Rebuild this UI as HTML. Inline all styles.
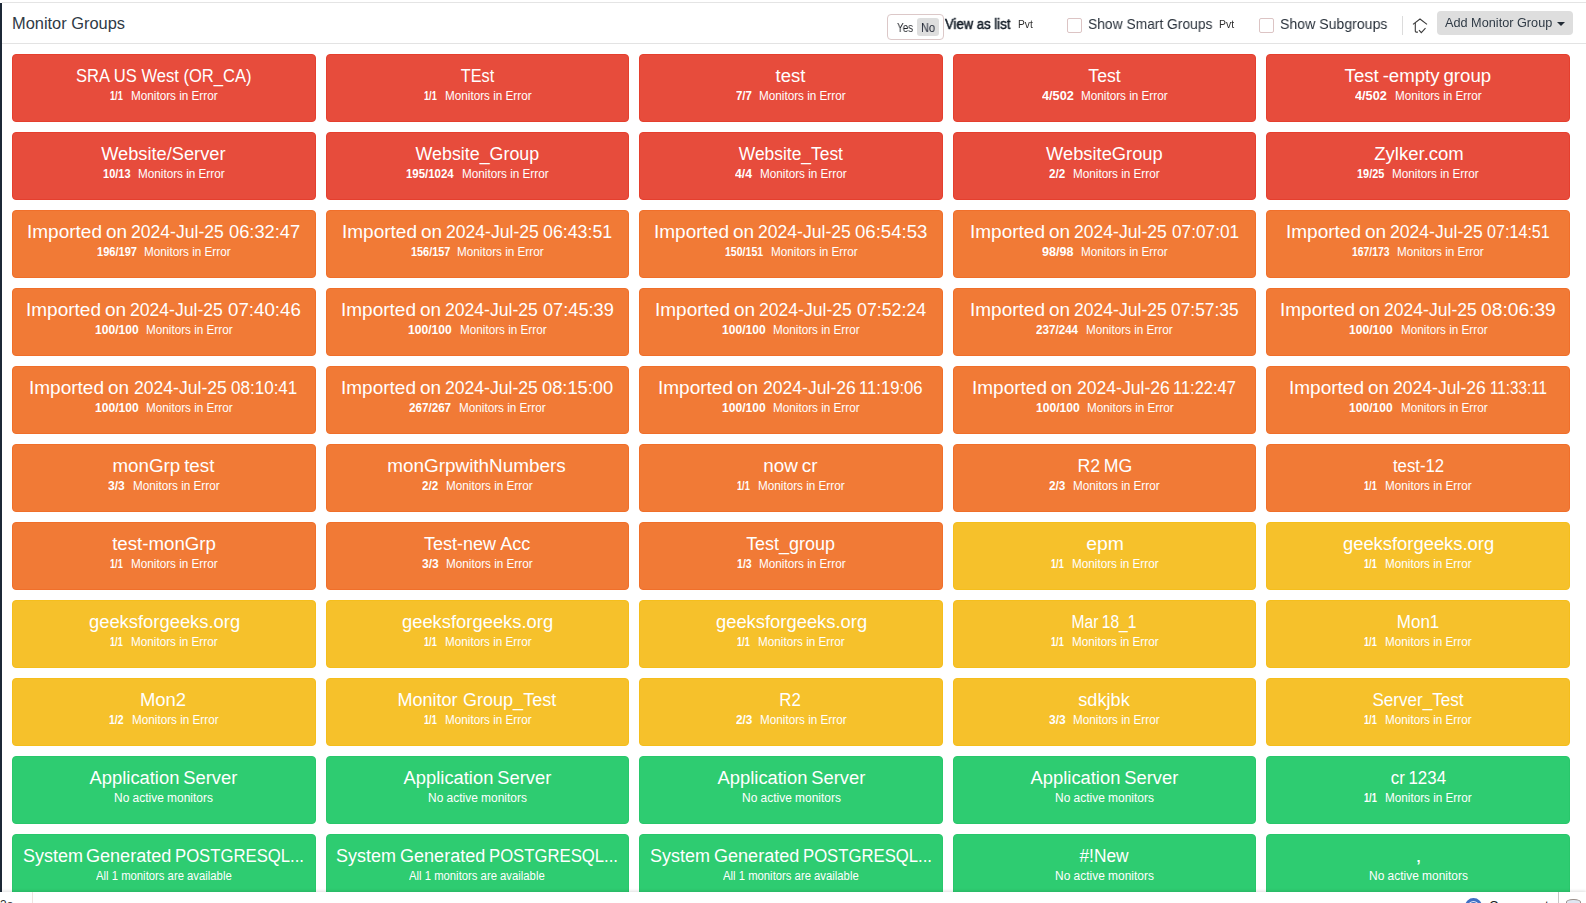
<!DOCTYPE html>
<html lang="en">
<head>
<meta charset="utf-8">
<title>Monitor Groups</title>
<style>
*{box-sizing:border-box;margin:0;padding:0}
html,body{width:1586px;height:903px;overflow:hidden;background:#fff}
body{font-family:"Liberation Sans",Arial,sans-serif;color:#333;position:relative}
.side{position:absolute;left:0;top:3px;width:2px;height:889px;background:#1c2836}
.topline{position:absolute;left:2px;top:2px;right:0;height:1px;background:#e4e4e4}
.hdr{position:absolute;left:0;top:0;width:1586px;height:44px;border-bottom:1px solid #e3e3e3;background:#fff}
.hl{position:absolute;white-space:nowrap;transform-origin:0 50%}
.ga{will-change:transform}
.tog{position:absolute;left:887px;top:14px;width:57px;height:26px;border:1px solid #dcc8c8;border-radius:4px;background:#fff}
.pill{position:absolute;left:917px;top:18px;width:22px;height:18px;border-radius:3px;background:#dedede}
.cb{position:absolute;top:18px;width:15px;height:15px;border:1px solid #dcc4c4;border-radius:2px;background:#fff}
.vsep{position:absolute;left:1402px;top:16px;width:1px;height:19px;background:#dcdcdc}
.btn{position:absolute;left:1437px;top:11px;width:136px;height:24px;border-radius:4px;background:#dedede}
.caret{position:absolute;left:1557px;top:22px;width:0;height:0;border-left:4px solid transparent;border-right:4px solid transparent;border-top:4px solid #222b35}
.home{position:absolute;left:1410px;top:14.5px;width:20px;height:20px}
.grid{position:absolute;left:12px;top:54px;width:1568px;display:flex;flex-wrap:wrap}
.c{width:303.6px;height:68px;margin:0 10px 10px 0;border-radius:4px;border:1px solid;color:#fff;text-align:center;overflow:hidden;white-space:nowrap}
.r{background:#e74c3c;border-color:#e53f2e}.o{background:#f17a36;border-color:#f06f2a}.y{background:#f6c12b;border-color:#f5be1c}.g{background:#2ecc71;border-color:#29c76b}
.t{font-size:18px;line-height:22px;margin-top:10px;word-spacing:-1.2px}
.t{position:relative;height:22px}
.t .x{display:inline-block;transform-origin:50% 50%}
.t .p{position:absolute;top:0;transform-origin:0 50%}
.s{font-size:12px;line-height:14px;margin-top:2px;display:flex;justify-content:center}
.s b{font-weight:700}
.bx{display:block;text-align:left;white-space:nowrap}
.bx i{display:inline-block;font-style:normal;transform-origin:0 50%}
.foot{position:absolute;left:0;top:892px;width:1586px;height:11px;background:#fff;box-shadow:0 -1px 3px rgba(0,0,0,.13);overflow:hidden;font-size:12px;color:#333}
.foot .ls{position:absolute;left:32px;top:0;width:1px;height:11px;background:#eee3e0}
.foot .rs{position:absolute;left:1558px;top:0;width:1px;height:11px;background:#c6c6c6}
.foot .lt{position:absolute;left:0;top:6px;line-height:14px;white-space:nowrap}
.foot .ct{position:absolute;left:1489px;top:6.1px;font-size:13px;line-height:16px;white-space:nowrap;color:#222;letter-spacing:.55px}
.foot .bc{position:absolute;left:1465px;top:6px;width:17px;height:17px;border-radius:50%;border:3.5px solid #3f6fc4;background:#dfe8f8}
.foot .bc:after{content:"";position:absolute;left:1.5px;top:0.5px;width:7px;height:7px;border-radius:50%;background:#3f6fc4}
.foot .pr{position:absolute;left:1566px;top:7px;width:15px;height:10px;border:1.5px solid #9a8f8a;border-radius:7px/3px;background:#dfe6f2}
</style>
</head>
<body>
<header class="hdr">
<div class="topline"></div>
<div class="tog"></div><div class="pill"></div>
<div class="cb" style="left:1067px"></div>
<div class="cb" style="left:1259px"></div>
<div class="vsep"></div>
<svg class="home" viewBox="0 0 20 20" fill="none" stroke="#3a3a3a" stroke-width="1.1" stroke-linecap="butt" stroke-linejoin="miter"><path d="M3 9.4 L10 4 L17 9.4"/><path d="M5.3 8 V16.2 Q5.3 17.1 6.2 17.1 H7.9"/><path d="M9 15.1 L11.3 17.6 L15.5 13.2"/></svg>
<div class="btn"></div><div class="caret"></div>
<span class="hl" style="left:11.57px;top:13.96px;font-size:16px;line-height:20px;font-weight:400;color:#2f3a45;transform:scaleX(1.0250)">Monitor Groups</span>
<span class="hl ga" style="left:896.80px;top:21.04px;font-size:12px;line-height:15px;font-weight:400;color:#1c1f24;transform:scaleX(0.8224)">Yes</span>
<span class="hl ga" style="left:921.10px;top:21.04px;font-size:12px;line-height:15px;font-weight:400;color:#1c2230;transform:scaleX(0.9064)">No</span>
<span class="hl ga" style="left:944.90px;top:15.15px;font-size:14px;line-height:18px;font-weight:400;color:#121b26;-webkit-text-stroke:0.5px #121b26;transform:scaleX(0.9359)">View as list</span>
<span class="hl ga" style="left:1017.70px;top:18.93px;font-size:10px;line-height:12px;font-weight:400;color:#2e2e2e;transform:scaleX(1.0225)">Pvt</span>
<span class="hl ga" style="left:1088.00px;top:14.20px;font-size:15px;line-height:19px;font-weight:400;color:#28303a;transform:scaleX(0.9216)">Show Smart Groups</span>
<span class="hl ga" style="left:1219.30px;top:18.93px;font-size:10px;line-height:12px;font-weight:400;color:#2e2e2e;transform:scaleX(1.0498)">Pvt</span>
<span class="hl ga" style="left:1279.90px;top:14.20px;font-size:15px;line-height:19px;font-weight:400;color:#28303a;transform:scaleX(0.9398)">Show Subgroups</span>
<span class="hl ga" style="left:1445.40px;top:16.04px;font-size:12px;line-height:15px;font-weight:400;color:#2f3a45;transform:scaleX(1.0579)">Add Monitor Group</span>
</header>
<div class="side"></div>
<main class="grid">
<div class="c r"><div class="t"><span class="x" style="word-spacing:0.0px;transform:translate(0.46px,0.4px) scaleX(0.9203)">SRA US West (OR_CA)</span></div><div class="s"><b class="bx" style="width:13.00px;margin-right:8.1px"><i style="transform:translateX(0.00px) scaleX(0.7644)">1/1</i></b><span class="bx" style="width:86.60px"><i style="transform:translateX(0.00px) scaleX(0.9764)">Monitors in Error</i></span></div></div>
<div class="c r"><div class="t"><span class="x" style="transform:translate(0.00px,0.4px) scaleX(0.9027)">TEst</span></div><div class="s"><b class="bx" style="width:13.00px;margin-right:8.1px"><i style="transform:translateX(0.00px) scaleX(0.7644)">1/1</i></b><span class="bx" style="width:86.60px"><i style="transform:translateX(0.00px) scaleX(0.9764)">Monitors in Error</i></span></div></div>
<div class="c r"><div class="t"><span class="x" style="transform:translate(0.00px,0.4px) scaleX(1.0272)">test</span></div><div class="s"><b class="bx" style="width:16.20px;margin-right:6.9px"><i style="transform:translateX(0.00px) scaleX(0.9525)">7/7</i></b><span class="bx" style="width:86.60px"><i style="transform:translateX(0.00px) scaleX(0.9764)">Monitors in Error</i></span></div></div>
<div class="c r"><div class="t"><span class="x" style="transform:translate(0.00px,0.4px) scaleX(0.9785)">Test</span></div><div class="s"><b class="bx" style="width:32.20px;margin-right:7.3px"><i style="transform:translateX(0.00px) scaleX(1.0608)">4/502</i></b><span class="bx" style="width:86.60px"><i style="transform:translateX(0.00px) scaleX(0.9764)">Monitors in Error</i></span></div></div>
<div class="c r"><div class="t"><span class="x" style="transform:translate(0.01px,0.4px) scaleX(1.0342)">Test -empty group</span></div><div class="s"><b class="bx" style="width:32.20px;margin-right:7.3px"><i style="transform:translateX(0.00px) scaleX(1.0608)">4/502</i></b><span class="bx" style="width:86.60px"><i style="transform:translateX(0.00px) scaleX(0.9764)">Monitors in Error</i></span></div></div>
<div class="c r"><div class="t"><span class="x" style="transform:translate(-0.00px,0.4px) scaleX(1.0129)">Website/Server</span></div><div class="s"><b class="bx" style="width:27.90px;margin-right:6.9px"><i style="transform:translateX(0.00px) scaleX(0.9191)">10/13</i></b><span class="bx" style="width:86.60px"><i style="transform:translateX(0.00px) scaleX(0.9764)">Monitors in Error</i></span></div></div>
<div class="c r"><div class="t"><span class="x" style="transform:translate(0.01px,0.4px) scaleX(0.9902)">Website_Group</span></div><div class="s"><b class="bx" style="width:48.00px;margin-right:7.3px"><i style="transform:translateX(0.00px) scaleX(0.9528)">195/1024</i></b><span class="bx" style="width:86.60px"><i style="transform:translateX(0.00px) scaleX(0.9764)">Monitors in Error</i></span></div></div>
<div class="c r"><div class="t"><span class="x" style="transform:translate(0.00px,0.4px) scaleX(0.9664)">Website_Test</span></div><div class="s"><b class="bx" style="width:17.40px;margin-right:7.3px"><i style="transform:translateX(0.00px) scaleX(1.0231)">4/4</i></b><span class="bx" style="width:86.60px"><i style="transform:translateX(0.00px) scaleX(0.9764)">Monitors in Error</i></span></div></div>
<div class="c r"><div class="t"><span class="x" style="transform:translate(0.01px,0.4px) scaleX(1.0165)">WebsiteGroup</span></div><div class="s"><b class="bx" style="width:16.50px;margin-right:7.3px"><i style="transform:translateX(0.00px) scaleX(0.9701)">2/2</i></b><span class="bx" style="width:86.60px"><i style="transform:translateX(0.00px) scaleX(0.9764)">Monitors in Error</i></span></div></div>
<div class="c r"><div class="t"><span class="x" style="transform:translate(0.51px,0.4px) scaleX(1.0277)">Zylker.com</span></div><div class="s"><b class="bx" style="width:27.60px;margin-right:7.3px"><i style="transform:translateX(0.00px) scaleX(0.9092)">19/25</i></b><span class="bx" style="width:86.60px"><i style="transform:translateX(0.00px) scaleX(0.9764)">Monitors in Error</i></span></div></div>
<div class="c o"><div class="t"><span class="p" style="left:13.94px;transform:scaleX(1.0555)">Imported on</span> <span class="p" style="left:118.20px;transform:scaleX(0.9763)">2024-Jul-25</span> <span class="p" style="left:215.80px;transform:scaleX(1.0163)">06:32:47</span></div><div class="s"><b class="bx" style="width:40.30px;margin-right:6.9px"><i style="transform:translateX(0.00px) scaleX(0.9221)">196/197</i></b><span class="bx" style="width:86.60px"><i style="transform:translateX(0.00px) scaleX(0.9764)">Monitors in Error</i></span></div></div>
<div class="c o"><div class="t"><span class="p" style="left:14.94px;transform:scaleX(1.0555)">Imported on</span> <span class="p" style="left:119.20px;transform:scaleX(0.9763)">2024-Jul-25</span> <span class="p" style="left:216.80px;transform:scaleX(0.9878)">06:43:51</span></div><div class="s"><b class="bx" style="width:39.60px;margin-right:6.9px"><i style="transform:translateX(0.00px) scaleX(0.9061)">156/157</i></b><span class="bx" style="width:86.60px"><i style="transform:translateX(0.00px) scaleX(0.9764)">Monitors in Error</i></span></div></div>
<div class="c o"><div class="t"><span class="p" style="left:13.34px;transform:scaleX(1.0555)">Imported on</span> <span class="p" style="left:117.60px;transform:scaleX(0.9763)">2024-Jul-25</span> <span class="p" style="left:215.20px;transform:scaleX(1.0335)">06:54:53</span></div><div class="s"><b class="bx" style="width:38.40px;margin-right:7.3px"><i style="transform:translateX(0.00px) scaleX(0.8787)">150/151</i></b><span class="bx" style="width:86.60px"><i style="transform:translateX(0.00px) scaleX(0.9764)">Monitors in Error</i></span></div></div>
<div class="c o"><div class="t"><span class="p" style="left:15.94px;transform:scaleX(1.0555)">Imported on</span> <span class="p" style="left:120.20px;transform:scaleX(0.9763)">2024-Jul-25</span> <span class="p" style="left:217.80px;transform:scaleX(0.9592)">07:07:01</span></div><div class="s"><b class="bx" style="width:31.90px;margin-right:7.3px"><i style="transform:translateX(0.00px) scaleX(1.0509)">98/98</i></b><span class="bx" style="width:86.60px"><i style="transform:translateX(0.00px) scaleX(0.9764)">Monitors in Error</i></span></div></div>
<div class="c o"><div class="t"><span class="p" style="left:18.14px;transform:scaleX(1.0555)">Imported on</span> <span class="p" style="left:122.40px;transform:scaleX(0.9763)">2024-Jul-25</span> <span class="p" style="left:220.00px;transform:scaleX(0.8964)">07:14:51</span></div><div class="s"><b class="bx" style="width:37.90px;margin-right:7.3px"><i style="transform:translateX(0.00px) scaleX(0.8672)">167/173</i></b><span class="bx" style="width:86.60px"><i style="transform:translateX(0.00px) scaleX(0.9764)">Monitors in Error</i></span></div></div>
<div class="c o"><div class="t"><span class="p" style="left:13.14px;transform:scaleX(1.0555)">Imported on</span> <span class="p" style="left:117.40px;transform:scaleX(0.9763)">2024-Jul-25</span> <span class="p" style="left:215.00px;transform:scaleX(1.0392)">07:40:46</span></div><div class="s"><b class="bx" style="width:44.00px;margin-right:7.3px"><i style="transform:translateX(0.00px) scaleX(1.0068)">100/100</i></b><span class="bx" style="width:86.60px"><i style="transform:translateX(0.00px) scaleX(0.9764)">Monitors in Error</i></span></div></div>
<div class="c o"><div class="t"><span class="p" style="left:14.14px;transform:scaleX(1.0555)">Imported on</span> <span class="p" style="left:118.40px;transform:scaleX(0.9763)">2024-Jul-25</span> <span class="p" style="left:216.00px;transform:scaleX(1.0106)">07:45:39</span></div><div class="s"><b class="bx" style="width:44.00px;margin-right:7.3px"><i style="transform:translateX(0.00px) scaleX(1.0068)">100/100</i></b><span class="bx" style="width:86.60px"><i style="transform:translateX(0.00px) scaleX(0.9764)">Monitors in Error</i></span></div></div>
<div class="c o"><div class="t"><span class="p" style="left:14.94px;transform:scaleX(1.0555)">Imported on</span> <span class="p" style="left:119.20px;transform:scaleX(0.9763)">2024-Jul-25</span> <span class="p" style="left:216.80px;transform:scaleX(0.9878)">07:52:24</span></div><div class="s"><b class="bx" style="width:44.00px;margin-right:7.3px"><i style="transform:translateX(0.00px) scaleX(1.0068)">100/100</i></b><span class="bx" style="width:86.60px"><i style="transform:translateX(0.00px) scaleX(0.9764)">Monitors in Error</i></span></div></div>
<div class="c o"><div class="t"><span class="p" style="left:15.74px;transform:scaleX(1.0555)">Imported on</span> <span class="p" style="left:120.00px;transform:scaleX(0.9763)">2024-Jul-25</span> <span class="p" style="left:217.60px;transform:scaleX(0.9649)">07:57:35</span></div><div class="s"><b class="bx" style="width:42.40px;margin-right:7.3px"><i style="transform:translateX(0.00px) scaleX(0.9702)">237/244</i></b><span class="bx" style="width:86.60px"><i style="transform:translateX(0.00px) scaleX(0.9764)">Monitors in Error</i></span></div></div>
<div class="c o"><div class="t"><span class="p" style="left:12.14px;transform:scaleX(1.0555)">Imported on</span> <span class="p" style="left:116.40px;transform:scaleX(0.9763)">2024-Jul-25</span> <span class="p" style="left:214.00px;transform:scaleX(1.0677)">08:06:39</span></div><div class="s"><b class="bx" style="width:44.00px;margin-right:7.3px"><i style="transform:translateX(0.00px) scaleX(1.0068)">100/100</i></b><span class="bx" style="width:86.60px"><i style="transform:translateX(0.00px) scaleX(0.9764)">Monitors in Error</i></span></div></div>
<div class="c o"><div class="t"><span class="p" style="left:16.39px;transform:scaleX(1.0555)">Imported on</span> <span class="p" style="left:120.65px;transform:scaleX(0.9763)">2024-Jul-25</span> <span class="p" style="left:218.25px;transform:scaleX(0.9464)">08:10:41</span></div><div class="s"><b class="bx" style="width:44.00px;margin-right:7.3px"><i style="transform:translateX(0.00px) scaleX(1.0068)">100/100</i></b><span class="bx" style="width:86.60px"><i style="transform:translateX(0.00px) scaleX(0.9764)">Monitors in Error</i></span></div></div>
<div class="c o"><div class="t"><span class="p" style="left:13.94px;transform:scaleX(1.0555)">Imported on</span> <span class="p" style="left:118.20px;transform:scaleX(0.9763)">2024-Jul-25</span> <span class="p" style="left:215.80px;transform:scaleX(1.0163)">08:15:00</span></div><div class="s"><b class="bx" style="width:42.40px;margin-right:7.3px"><i style="transform:translateX(0.00px) scaleX(0.9702)">267/267</i></b><span class="bx" style="width:86.60px"><i style="transform:translateX(0.00px) scaleX(0.9764)">Monitors in Error</i></span></div></div>
<div class="c o"><div class="t"><span class="p" style="left:18.19px;transform:scaleX(1.0555)">Imported on</span> <span class="p" style="left:122.45px;transform:scaleX(0.9763)">2024-Jul-26</span> <span class="p" style="left:219.12px;transform:scaleX(0.9259)">11:19:06</span></div><div class="s"><b class="bx" style="width:44.00px;margin-right:7.3px"><i style="transform:translateX(0.00px) scaleX(1.0068)">100/100</i></b><span class="bx" style="width:86.60px"><i style="transform:translateX(0.00px) scaleX(0.9764)">Monitors in Error</i></span></div></div>
<div class="c o"><div class="t"><span class="p" style="left:18.59px;transform:scaleX(1.0555)">Imported on</span> <span class="p" style="left:122.85px;transform:scaleX(0.9763)">2024-Jul-26</span> <span class="p" style="left:219.54px;transform:scaleX(0.9141)">11:22:47</span></div><div class="s"><b class="bx" style="width:44.00px;margin-right:7.3px"><i style="transform:translateX(0.00px) scaleX(1.0068)">100/100</i></b><span class="bx" style="width:86.60px"><i style="transform:translateX(0.00px) scaleX(0.9764)">Monitors in Error</i></span></div></div>
<div class="c o"><div class="t"><span class="p" style="left:21.44px;transform:scaleX(1.0555)">Imported on</span> <span class="p" style="left:125.70px;transform:scaleX(0.9763)">2024-Jul-26</span> <span class="p" style="left:222.45px;transform:scaleX(0.8466)">11:33:11</span></div><div class="s"><b class="bx" style="width:44.00px;margin-right:7.3px"><i style="transform:translateX(0.00px) scaleX(1.0068)">100/100</i></b><span class="bx" style="width:86.60px"><i style="transform:translateX(0.00px) scaleX(0.9764)">Monitors in Error</i></span></div></div>
<div class="c o"><div class="t"><span class="x" style="transform:translate(-0.52px,0.4px) scaleX(1.0420)">monGrp test</span></div><div class="s"><b class="bx" style="width:17.10px;margin-right:7.3px"><i style="transform:translateX(0.00px) scaleX(1.0054)">3/3</i></b><span class="bx" style="width:86.60px"><i style="transform:translateX(0.00px) scaleX(0.9764)">Monitors in Error</i></span></div></div>
<div class="c o"><div class="t"><span class="x" style="transform:translate(-0.53px,0.4px) scaleX(1.0506)">monGrpwithNumbers</span></div><div class="s"><b class="bx" style="width:16.50px;margin-right:7.3px"><i style="transform:translateX(0.00px) scaleX(0.9701)">2/2</i></b><span class="bx" style="width:86.60px"><i style="transform:translateX(0.00px) scaleX(0.9764)">Monitors in Error</i></span></div></div>
<div class="c o"><div class="t"><span class="x" style="transform:translate(-0.53px,0.4px) scaleX(1.0488)">now cr</span></div><div class="s"><b class="bx" style="width:13.00px;margin-right:8.1px"><i style="transform:translateX(0.00px) scaleX(0.7644)">1/1</i></b><span class="bx" style="width:86.60px"><i style="transform:translateX(0.00px) scaleX(0.9764)">Monitors in Error</i></span></div></div>
<div class="c o"><div class="t"><span class="x" style="transform:translate(0.00px,0.4px) scaleX(0.9832)">R2 MG</span></div><div class="s"><b class="bx" style="width:16.70px;margin-right:7.3px"><i style="transform:translateX(0.00px) scaleX(0.9819)">2/3</i></b><span class="bx" style="width:86.60px"><i style="transform:translateX(0.00px) scaleX(0.9764)">Monitors in Error</i></span></div></div>
<div class="c o"><div class="t"><span class="x" style="transform:translate(0.00px,0.4px) scaleX(0.9306)">test-12</span></div><div class="s"><b class="bx" style="width:13.00px;margin-right:8.1px"><i style="transform:translateX(0.00px) scaleX(0.7644)">1/1</i></b><span class="bx" style="width:86.60px"><i style="transform:translateX(0.00px) scaleX(0.9764)">Monitors in Error</i></span></div></div>
<div class="c o"><div class="t"><span class="x" style="transform:translate(0.01px,0.4px) scaleX(1.0368)">test-monGrp</span></div><div class="s"><b class="bx" style="width:13.00px;margin-right:8.1px"><i style="transform:translateX(0.00px) scaleX(0.7644)">1/1</i></b><span class="bx" style="width:86.60px"><i style="transform:translateX(0.00px) scaleX(0.9764)">Monitors in Error</i></span></div></div>
<div class="c o"><div class="t"><span class="x" style="word-spacing:0.3px;transform:translate(0.00px,0.4px) scaleX(1.0006)">Test-new Acc</span></div><div class="s"><b class="bx" style="width:17.10px;margin-right:7.3px"><i style="transform:translateX(0.00px) scaleX(1.0054)">3/3</i></b><span class="bx" style="width:86.60px"><i style="transform:translateX(0.00px) scaleX(0.9764)">Monitors in Error</i></span></div></div>
<div class="c o"><div class="t"><span class="x" style="transform:translate(0.01px,0.4px) scaleX(0.9972)">Test_group</span></div><div class="s"><b class="bx" style="width:15.00px;margin-right:7.3px"><i style="transform:translateX(0.00px) scaleX(0.8819)">1/3</i></b><span class="bx" style="width:86.60px"><i style="transform:translateX(0.00px) scaleX(0.9764)">Monitors in Error</i></span></div></div>
<div class="c y"><div class="t"><span class="x" style="transform:translate(0.54px,0.4px) scaleX(1.0787)">epm</span></div><div class="s"><b class="bx" style="width:13.00px;margin-right:8.1px"><i style="transform:translateX(0.00px) scaleX(0.7644)">1/1</i></b><span class="bx" style="width:86.60px"><i style="transform:translateX(0.00px) scaleX(0.9764)">Monitors in Error</i></span></div></div>
<div class="c y"><div class="t"><span class="x" style="transform:translate(0.52px,0.4px) scaleX(1.0212)">geeksforgeeks.org</span></div><div class="s"><b class="bx" style="width:13.00px;margin-right:8.1px"><i style="transform:translateX(0.00px) scaleX(0.7644)">1/1</i></b><span class="bx" style="width:86.60px"><i style="transform:translateX(0.00px) scaleX(0.9764)">Monitors in Error</i></span></div></div>
<div class="c y"><div class="t"><span class="x" style="transform:translate(0.52px,0.4px) scaleX(1.0212)">geeksforgeeks.org</span></div><div class="s"><b class="bx" style="width:13.00px;margin-right:8.1px"><i style="transform:translateX(0.00px) scaleX(0.7644)">1/1</i></b><span class="bx" style="width:86.60px"><i style="transform:translateX(0.00px) scaleX(0.9764)">Monitors in Error</i></span></div></div>
<div class="c y"><div class="t"><span class="x" style="transform:translate(0.52px,0.4px) scaleX(1.0212)">geeksforgeeks.org</span></div><div class="s"><b class="bx" style="width:13.00px;margin-right:8.1px"><i style="transform:translateX(0.00px) scaleX(0.7644)">1/1</i></b><span class="bx" style="width:86.60px"><i style="transform:translateX(0.00px) scaleX(0.9764)">Monitors in Error</i></span></div></div>
<div class="c y"><div class="t"><span class="x" style="transform:translate(0.52px,0.4px) scaleX(1.0212)">geeksforgeeks.org</span></div><div class="s"><b class="bx" style="width:13.00px;margin-right:8.1px"><i style="transform:translateX(0.00px) scaleX(0.7644)">1/1</i></b><span class="bx" style="width:86.60px"><i style="transform:translateX(0.00px) scaleX(0.9764)">Monitors in Error</i></span></div></div>
<div class="c y"><div class="t"><span class="x" style="transform:translate(-0.43px,0.4px) scaleX(0.8695)">Mar 18_1</span></div><div class="s"><b class="bx" style="width:13.00px;margin-right:8.1px"><i style="transform:translateX(0.00px) scaleX(0.7644)">1/1</i></b><span class="bx" style="width:86.60px"><i style="transform:translateX(0.00px) scaleX(0.9764)">Monitors in Error</i></span></div></div>
<div class="c y"><div class="t"><span class="x" style="transform:translate(-0.47px,0.4px) scaleX(0.9451)">Mon1</span></div><div class="s"><b class="bx" style="width:13.00px;margin-right:8.1px"><i style="transform:translateX(0.00px) scaleX(0.7644)">1/1</i></b><span class="bx" style="width:86.60px"><i style="transform:translateX(0.00px) scaleX(0.9764)">Monitors in Error</i></span></div></div>
<div class="c y"><div class="t"><span class="x" style="transform:translate(-0.51px,0.4px) scaleX(1.0269)">Mon2</span></div><div class="s"><b class="bx" style="width:14.90px;margin-right:7.3px"><i style="transform:translateX(0.00px) scaleX(0.8761)">1/2</i></b><span class="bx" style="width:86.60px"><i style="transform:translateX(0.00px) scaleX(0.9764)">Monitors in Error</i></span></div></div>
<div class="c y"><div class="t"><span class="x" style="word-spacing:0.5px;transform:translate(-0.50px,0.4px) scaleX(1.0015)">Monitor Group_Test</span></div><div class="s"><b class="bx" style="width:13.00px;margin-right:8.1px"><i style="transform:translateX(0.00px) scaleX(0.7644)">1/1</i></b><span class="bx" style="width:86.60px"><i style="transform:translateX(0.00px) scaleX(0.9764)">Monitors in Error</i></span></div></div>
<div class="c y"><div class="t"><span class="x" style="transform:translate(-0.46px,0.4px) scaleX(0.9364)">R2</span></div><div class="s"><b class="bx" style="width:16.70px;margin-right:7.3px"><i style="transform:translateX(0.00px) scaleX(0.9819)">2/3</i></b><span class="bx" style="width:86.60px"><i style="transform:translateX(0.00px) scaleX(0.9764)">Monitors in Error</i></span></div></div>
<div class="c y"><div class="t"><span class="x" style="transform:translate(-0.50px,0.4px) scaleX(1.0092)">sdkjbk</span></div><div class="s"><b class="bx" style="width:17.10px;margin-right:7.3px"><i style="transform:translateX(0.00px) scaleX(1.0054)">3/3</i></b><span class="bx" style="width:86.60px"><i style="transform:translateX(0.00px) scaleX(0.9764)">Monitors in Error</i></span></div></div>
<div class="c y"><div class="t"><span class="x" style="transform:translate(0.00px,0.4px) scaleX(0.9496)">Server_Test</span></div><div class="s"><b class="bx" style="width:13.00px;margin-right:8.1px"><i style="transform:translateX(0.00px) scaleX(0.7644)">1/1</i></b><span class="bx" style="width:86.60px"><i style="transform:translateX(0.00px) scaleX(0.9764)">Monitors in Error</i></span></div></div>
<div class="c g"><div class="t"><span class="x" style="transform:translate(-0.00px,0.4px) scaleX(1.0195)">Application Server</span></div><div class="s"><span class="bx" style="width:98.90px"><i style="transform:translateX(0.00px) scaleX(0.9953)">No active monitors</i></span></div></div>
<div class="c g"><div class="t"><span class="x" style="transform:translate(-0.00px,0.4px) scaleX(1.0195)">Application Server</span></div><div class="s"><span class="bx" style="width:98.90px"><i style="transform:translateX(0.00px) scaleX(0.9953)">No active monitors</i></span></div></div>
<div class="c g"><div class="t"><span class="x" style="transform:translate(-0.00px,0.4px) scaleX(1.0195)">Application Server</span></div><div class="s"><span class="bx" style="width:98.90px"><i style="transform:translateX(0.00px) scaleX(0.9953)">No active monitors</i></span></div></div>
<div class="c g"><div class="t"><span class="x" style="transform:translate(-0.00px,0.4px) scaleX(1.0195)">Application Server</span></div><div class="s"><span class="bx" style="width:98.90px"><i style="transform:translateX(0.00px) scaleX(0.9953)">No active monitors</i></span></div></div>
<div class="c g"><div class="t"><span class="x" style="transform:translate(0.01px,0.4px) scaleX(0.9383)">cr 1234</span></div><div class="s"><b class="bx" style="width:13.00px;margin-right:8.1px"><i style="transform:translateX(0.00px) scaleX(0.7644)">1/1</i></b><span class="bx" style="width:86.60px"><i style="transform:translateX(0.00px) scaleX(0.9764)">Monitors in Error</i></span></div></div>
<div class="c g"><div class="t"><span class="p" style="left:9.50px;transform:scaleX(0.9980)">System</span> <span class="p" style="left:73.40px;transform:scaleX(1.0030)">Generated</span> <span class="p" style="left:162.37px;transform:scaleX(0.9275)">POSTGRESQL...</span></div><div class="s"><span class="bx" style="width:136.00px"><i style="transform:translateX(0.00px) scaleX(0.9419)">All 1 monitors are available</i></span></div></div>
<div class="c g"><div class="t"><span class="p" style="left:9.50px;transform:scaleX(0.9980)">System</span> <span class="p" style="left:73.40px;transform:scaleX(1.0030)">Generated</span> <span class="p" style="left:162.37px;transform:scaleX(0.9275)">POSTGRESQL...</span></div><div class="s"><span class="bx" style="width:136.00px"><i style="transform:translateX(0.00px) scaleX(0.9419)">All 1 monitors are available</i></span></div></div>
<div class="c g"><div class="t"><span class="p" style="left:9.50px;transform:scaleX(0.9980)">System</span> <span class="p" style="left:73.40px;transform:scaleX(1.0030)">Generated</span> <span class="p" style="left:162.37px;transform:scaleX(0.9275)">POSTGRESQL...</span></div><div class="s"><span class="bx" style="width:136.00px"><i style="transform:translateX(0.00px) scaleX(0.9419)">All 1 monitors are available</i></span></div></div>
<div class="c g"><div class="t"><span class="x" style="transform:translate(-0.48px,0.4px) scaleX(0.9631)">#!New</span></div><div class="s"><span class="bx" style="width:98.90px"><i style="transform:translateX(0.00px) scaleX(0.9953)">No active monitors</i></span></div></div>
<div class="c g"><div class="t"><span class="x" style="transform:translate(0.00px,0.4px) scaleX(1.2000)">,</span></div><div class="s"><span class="bx" style="width:98.90px"><i style="transform:translateX(0.00px) scaleX(0.9953)">No active monitors</i></span></div></div>
</main>
<footer class="foot"><span class="lt">3a</span><div class="ls"></div><div class="bc"></div><span class="ct">Comment</span><div class="rs"></div><div class="pr"></div></footer>
</body>
</html>
